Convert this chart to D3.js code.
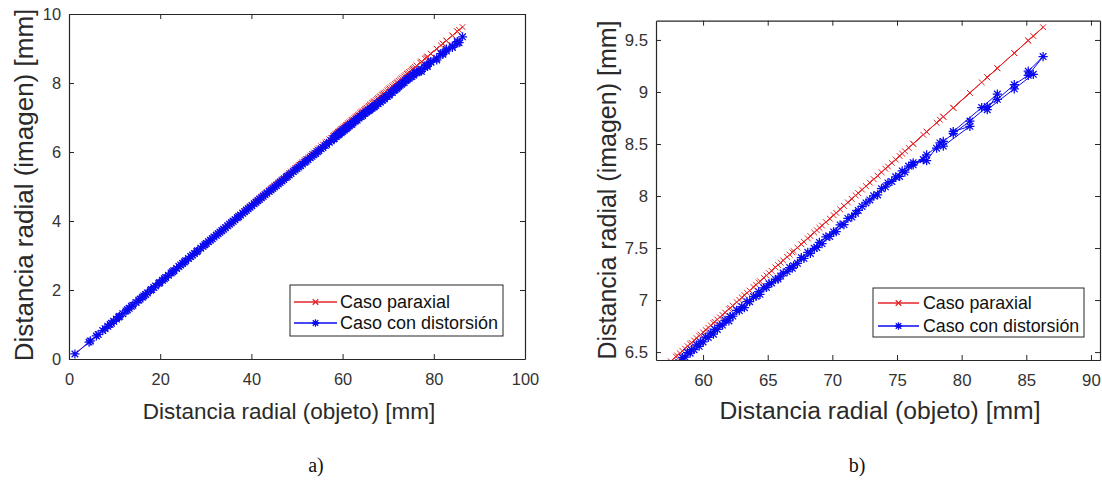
<!DOCTYPE html>
<html><head><meta charset="utf-8">
<script src="https://cdn.jsdelivr.net/npm/d3@7"></script>
<style>
body{margin:0;background:#fff;}
svg{display:block;}
</style></head>
<body>
<svg id="c" width="1102" height="480"></svg>
<script>
// Distancia radial (objeto) [mm], in the order the points were plotted
const objeto = [1.3,4.4,4.7,6.0,6.4,7.4,7.9,9.0,9.3,10.4,11.1,12.5,13.2,14.0,15.3,16.1,16.8,17.9,18.6,19.7,20.5,21.2,22.4,23.0,24.1,24.9,25.6,26.7,27.5,28.2,29.4,30.1,31.0,31.8,32.7,33.5,34.3,35.2,36.0,36.9,37.6,38.5,39.3,40.1,41.0,41.8,42.6,43.4,44.3,45.1,45.9,46.7,47.6,48.3,49.2,50.0,50.8,51.7,52.4,53.3,54.1,54.8,55.7,56.5,57.5,58.0,58.6,58.2,59.0,59.7,59.3,60.0,60.8,60.4,61.1,62.0,61.5,62.3,63.2,62.8,63.6,64.4,64.1,64.9,65.8,65.3,66.2,67.0,66.7,67.6,68.6,68.1,69.0,70.1,69.5,70.6,71.8,71.2,72.3,73.5,72.9,74.1,75.2,74.6,75.61,77.03,76.25,77.29,78.32,78.06,78.58,80.64,79.35,81.55,82.76,81.98,84.07,85.54,85.15,86.3,
  85.15,84.07,82.76,81.98,80.64,79.35,78.58,77.29,76.25,
  75.9,75.4,74.9,74.3,73.8,73.2,72.6,72.0,71.5,70.9,70.3,69.8,69.2,68.8,68.3,67.8,67.3,66.9,66.5,66.0,65.6,65.1,64.7,64.3,63.9,63.4,63.0,62.6,62.1,61.7,61.3,60.9,60.6,60.2,59.8,59.5,59.1,58.8,58.4,57.9,57.1,56.2,55.3,54.5,53.7,52.9,52.0,51.2,50.4,49.6,48.7,47.9,47.1,46.3,45.5,44.7,43.9,43.0,42.2,41.4,40.6,39.7,38.9,38.1,37.2,36.4,35.6,34.8,33.9,33.1,32.3,31.4,30.6,29.8,28.9,28.0,27.1,26.2,25.3,24.5,23.6,22.7,21.8,20.9,19.9,19.0,18.1,17.2,16.4,15.6,14.7,13.7,12.8,11.8,10.9,9.8,8.5];
// Caso paraxial: distancia radial (imagen) [mm]
const paraxial = [0.145,0.491,0.524,0.669,0.714,0.825,0.881,1.004,1.037,1.160,1.238,1.394,1.472,1.561,1.706,1.795,1.873,1.996,2.074,2.197,2.286,2.364,2.498,2.565,2.687,2.776,2.854,2.977,3.066,3.144,3.278,3.356,3.457,3.546,3.646,3.735,3.824,3.925,4.014,4.114,4.192,4.293,4.382,4.471,4.572,4.661,4.750,4.839,4.939,5.029,5.118,5.207,5.307,5.385,5.486,5.575,5.664,5.765,5.843,5.943,6.032,6.110,6.211,6.300,6.411,6.467,6.534,6.489,6.579,6.657,6.612,6.690,6.779,6.735,6.813,6.913,6.857,6.946,7.047,7.002,7.091,7.181,7.147,7.236,7.337,7.281,7.381,7.471,7.437,7.537,7.649,7.593,7.694,7.816,7.749,7.872,8.006,7.939,8.061,8.195,8.128,8.262,8.385,8.318,8.431,8.589,8.502,8.618,8.733,8.704,8.762,8.991,8.848,9.093,9.228,9.141,9.374,9.538,9.494,9.622,
  9.494,9.374,9.228,9.141,8.991,8.848,8.762,8.618,8.502,
  8.463,8.407,8.351,8.284,8.229,8.162,8.095,8.028,7.972,7.905,7.838,7.783,7.716,7.671,7.615,7.560,7.504,7.459,7.415,7.359,7.314,7.259,7.214,7.169,7.125,7.069,7.025,6.980,6.924,6.880,6.835,6.790,6.757,6.712,6.668,6.634,6.590,6.556,6.512,6.456,6.367,6.266,6.166,6.077,5.988,5.898,5.798,5.709,5.620,5.530,5.430,5.341,5.252,5.162,5.073,4.984,4.895,4.795,4.705,4.616,4.527,4.427,4.337,4.248,4.148,4.059,3.969,3.880,3.780,3.691,3.601,3.501,3.412,3.323,3.222,3.122,3.022,2.921,2.821,2.732,2.631,2.531,2.431,2.330,2.219,2.119,2.018,1.918,1.829,1.739,1.639,1.528,1.427,1.316,1.215,1.093,0.948];
// Caso con distorsión: distancia radial (imagen) [mm]
const distorsion = [0.145,0.490,0.524,0.668,0.712,0.824,0.879,1.003,1.035,1.158,1.237,1.392,1.470,1.559,1.704,1.792,1.871,1.993,2.070,2.194,2.281,2.360,2.492,2.561,2.680,2.770,2.846,2.970,3.056,3.135,3.266,3.345,3.443,3.533,3.629,3.719,3.805,3.907,3.992,4.093,4.167,4.269,4.354,4.443,4.540,4.629,4.715,4.804,4.899,4.989,5.074,5.163,5.258,5.336,5.432,5.520,5.605,5.704,5.778,5.876,5.960,6.038,6.133,6.221,6.327,6.380,6.452,6.396,6.490,6.556,6.523,6.598,6.672,6.641,6.718,6.799,6.760,6.846,6.927,6.899,6.984,7.055,7.036,7.121,7.202,7.165,7.259,7.330,7.312,7.407,7.497,7.459,7.554,7.655,7.607,7.722,7.834,7.785,7.900,8.011,7.962,8.088,8.188,8.140,8.230,8.350,8.320,8.340,8.510,8.460,8.480,8.670,8.620,8.850,8.980,8.830,9.030,9.170,9.200,9.340,
  9.160,9.070,8.930,8.860,8.720,8.600,8.525,8.395,8.300,
  8.288,8.241,8.184,8.126,8.070,8.002,7.934,7.862,7.799,7.726,7.658,7.611,7.543,7.506,7.448,7.401,7.353,7.306,7.274,7.231,7.198,7.156,7.118,7.081,7.034,6.985,6.938,6.901,6.842,6.805,6.757,6.719,6.683,6.645,6.598,6.570,6.523,6.495,6.448,6.389,6.284,6.187,6.091,6.005,5.919,5.832,5.735,5.649,5.563,5.476,5.378,5.292,5.205,5.118,5.031,4.944,4.857,4.760,4.672,4.584,4.497,4.399,4.311,4.223,4.125,4.037,3.949,3.861,3.763,3.675,3.586,3.487,3.399,3.311,3.211,3.112,3.013,2.913,2.814,2.725,2.625,2.526,2.426,2.326,2.215,2.116,2.015,1.916,1.827,1.737,1.638,1.527,1.426,1.315,1.214,1.092,0.948];

const leftXTicks = [0,20,40,60,80,100];
const leftYTicks = [0,2,4,6,8,10];
const rightXTicks = [60,65,70,75,80,85,90];
const rightYTicks = [6.5,7,7.5,8,8.5,9,9.5];
const seriesNames = ["Caso paraxial","Caso con distorsión"];
const xTitle = "Distancia radial (objeto) [mm]";
const yTitle = "Distancia radial (imagen) [mm]";
const panelLabels = ["a)","b)"];

const RED = "#e3262a", BLUE = "#0a0af0", AX = "#262626";
const svg = d3.select("#c");
const FONT = "'Liberation Sans', Arial, sans-serif";

const series = [
  {name: seriesNames[0], ys: paraxial, color: RED, marker: "x", ms: 2.9, mw: 1},
  {name: seriesNames[1], ys: distorsion, color: BLUE, marker: "*", ms: 4.6, mw: 1.25}
];

function markerPath(type, s) {
  if (type === "x") {
    return `M${-s},${-s}L${s},${s}M${-s},${s}L${s},${-s}`;
  }
  const d = s * 0.72;
  return `M${-s},0L${s},0M0,${-s}L0,${s}M${-d},${-d}L${d},${d}M${-d},${d}L${d},${-d}`;
}

function panel(cfg) {
  const {id, x, y, xTicks, yTicks, xFmt, yFmt, legend, label} = cfg;
  const g = svg.append("g");
  const [x0, x1] = x.range(), [y0, y1] = y.range();
  g.append("clipPath").attr("id", "clip" + id).append("rect")
    .attr("x", x0).attr("y", y1).attr("width", x1 - x0).attr("height", y0 - y1);

  const plot = g.append("g").attr("clip-path", `url(#clip${id})`);
  series.forEach(s => {
    const pts = objeto.map((r, i) => [r, s.ys[i]]).filter(d => d[1] != null);
    plot.append("path").datum(pts)
      .attr("fill", "none").attr("stroke", s.color).attr("stroke-width", 1)
      .attr("d", d3.line().x(d => x(d[0])).y(d => y(d[1])));
    plot.append("g").selectAll("path").data(pts).join("path")
      .attr("transform", d => `translate(${x(d[0])},${y(d[1])})`)
      .attr("d", markerPath(s.marker, s.ms))
      .attr("fill", "none").attr("stroke", s.color).attr("stroke-width", s.mw);
  });

  const styleAxis = sel => {
    sel.select(".domain").attr("stroke", AX).attr("stroke-width", 1.2).attr("fill", "none");
    sel.selectAll(".tick line").attr("stroke", AX).attr("stroke-width", 1);
    sel.selectAll("text").attr("fill", "#333").attr("font-family", FONT).attr("font-size", cfg.tickFont + "px");
  };
  g.append("g").attr("transform", `translate(0,${y0})`)
    .call(d3.axisBottom(x).tickValues(xTicks).tickFormat(xFmt).tickSizeInner(-5).tickSizeOuter(0).tickPadding(14))
    .call(styleAxis);
  g.append("g").attr("transform", `translate(0,${y1})`)
    .call(d3.axisTop(x).tickValues(xTicks).tickFormat("").tickSizeInner(-5).tickSizeOuter(0))
    .call(styleAxis);
  g.append("g").attr("transform", `translate(${x0},0)`)
    .call(d3.axisLeft(y).tickValues(yTicks).tickFormat(yFmt).tickSizeInner(-5).tickSizeOuter(0).tickPadding(8))
    .call(styleAxis);
  g.append("g").attr("transform", `translate(${x1},0)`)
    .call(d3.axisRight(y).tickValues(yTicks).tickFormat("").tickSizeInner(-5).tickSizeOuter(0))
    .call(styleAxis);

  g.append("text").text(xTitle).attr("x", cfg.xTitlePos[0]).attr("y", cfg.xTitlePos[1])
    .attr("text-anchor", "middle").attr("dominant-baseline", "central")
    .attr("font-family", FONT).attr("font-size", cfg.xTitleFont + "px").attr("fill", "#2a2a2a");
  g.append("text").text(yTitle)
    .attr("transform", `translate(${cfg.yTitlePos[0]},${cfg.yTitlePos[1]}) rotate(-90)`)
    .attr("text-anchor", "middle").attr("dominant-baseline", "central")
    .attr("font-family", FONT).attr("font-size", cfg.yTitleFont + "px").attr("fill", "#2a2a2a");

  // legend
  const lg = g.append("g");
  lg.append("rect").attr("x", legend.x).attr("y", legend.y).attr("width", legend.w).attr("height", legend.h)
    .attr("fill", "#fff").attr("stroke", AX).attr("stroke-width", 1);
  series.forEach((s, i) => {
    const ry = legend.rows[i];
    lg.append("line").attr("x1", legend.lx0).attr("x2", legend.lx1).attr("y1", ry).attr("y2", ry)
      .attr("stroke", s.color).attr("stroke-width", 1.3);
    lg.append("path").attr("transform", `translate(${(legend.lx0 + legend.lx1) / 2},${ry})`)
      .attr("d", markerPath(s.marker, s.marker === "x" ? 2.8 : 3.8))
      .attr("fill", "none").attr("stroke", s.color).attr("stroke-width", 1.3);
    lg.append("text").text(s.name).attr("x", legend.tx).attr("y", ry)
      .attr("dominant-baseline", "central").attr("font-family", FONT)
      .attr("font-size", legend.font + "px").attr("fill", "#111");
  });

  svg.append("text").text(label).attr("x", cfg.labelPos[0]).attr("y", cfg.labelPos[1])
    .attr("text-anchor", "middle").attr("dominant-baseline", "central")
    .attr("font-family", "'Liberation Serif', 'Times New Roman', serif").attr("font-size", "20px").attr("fill", "#111");
}

panel({
  id: "a",
  x: d3.scaleLinear().domain([0, 100]).range([69, 525]),
  y: d3.scaleLinear().domain([0, 10]).range([359, 14]),
  xTicks: leftXTicks, yTicks: leftYTicks,
  xFmt: d3.format("d"), yFmt: d3.format("d"),
  tickFont: 16.4, xTitleFont: 22.5, yTitleFont: 26,
  legend: {x: 290, y: 285, w: 213, h: 51, rows: [302, 323], lx0: 294, lx1: 337, tx: 340, font: 18},
  label: panelLabels[0], labelPos: [316, 465],
  xTitlePos: [289, 411], yTitlePos: [24, 185]
});

panel({
  id: "b",
  x: d3.scaleLinear().domain([56.36, 90.70]).range([656, 1100]),
  y: d3.scaleLinear().domain([6.424, 9.685]).range([360, 20.7]),
  xTicks: rightXTicks, yTicks: rightYTicks,
  xFmt: d3.format("d"), yFmt: d => String(d),
  tickFont: 16.8, xTitleFont: 24.7, yTitleFont: 25,
  legend: {x: 873, y: 288, w: 211, h: 49, rows: [303, 326], lx0: 878, lx1: 919, tx: 923, font: 17.8},
  label: panelLabels[1], labelPos: [857, 465],
  xTitlePos: [880, 410], yTitlePos: [607, 190]
});
</script>
</body></html>
